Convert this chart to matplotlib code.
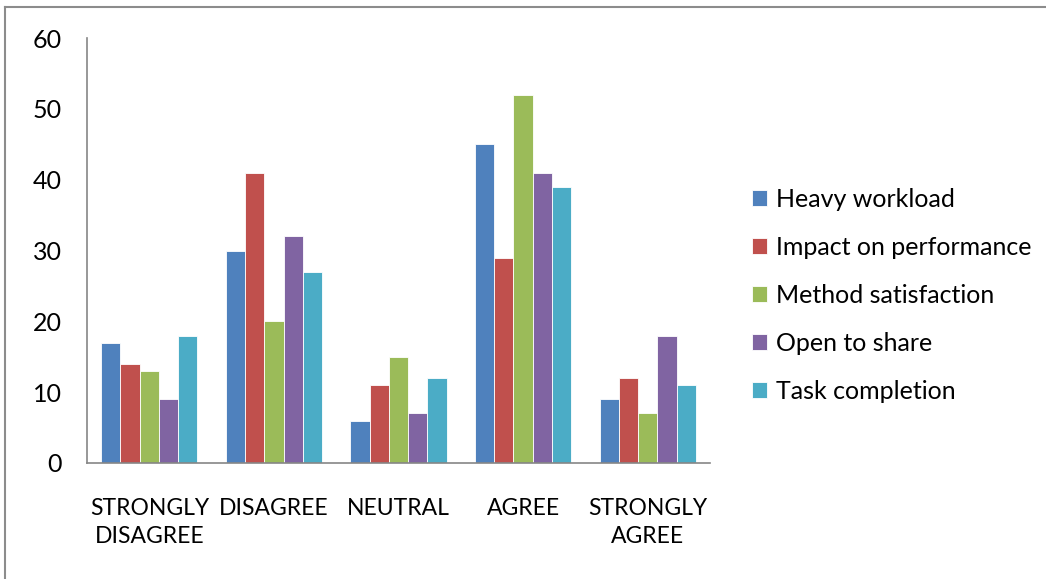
import matplotlib
matplotlib.use("Agg")
import matplotlib.pyplot as plt
import numpy as np
from matplotlib.lines import Line2D

categories = ["STRONGLY\nDISAGREE", "DISAGREE", "NEUTRAL", "AGREE", "STRONGLY\nAGREE"]
series_names = ["Heavy workload", "Impact on performance", "Method satisfaction",
                "Open to share", "Task completion"]
heavy_workload = [17, 30, 6, 45, 9]
impact_on_performance = [14, 41, 11, 29, 12]
method_satisfaction = [13, 20, 15, 52, 7]
open_to_share = [9, 32, 7, 41, 18]
task_completion = [18, 27, 12, 39, 11]
series_values = [heavy_workload, impact_on_performance, method_satisfaction,
                 open_to_share, task_completion]
colors = ["#4F81BD", "#C0504D", "#9BBB59", "#8064A2", "#4BACC6"]
yticks = [0, 10, 20, 30, 40, 50, 60]

plt.rcParams['font.family'] = ['Lato', 'DejaVu Sans']

W, H = 1046, 579
fig = plt.figure(figsize=(W / 100, H / 100), dpi=100)
ax = fig.add_axes([87 / W, 1 - 463 / H, (710 - 87) / W, (463 - 38) / H])

n = len(series_names)
x = np.arange(len(categories))
group_w = 0.772
bw = group_w / n
for i, (name, vals, c) in enumerate(zip(series_names, series_values, colors)):
    ax.bar(x - group_w / 2 + bw * (i + 0.5), vals, width=bw, color=c,
           edgecolor="white", linewidth=0.6, label=name, zorder=2)

ax.set_xlim(-0.5, len(categories) - 0.5)
ax.set_ylim(0, 60)
ax.set_yticks(yticks)
ax.set_yticklabels([str(v) for v in yticks], fontsize=18)
ax.set_xticks(x)
ax.set_xticklabels(categories, fontsize=16.5, linespacing=1.45)
ax.tick_params(axis='both', length=0)
ax.tick_params(axis='y', pad=18)
ax.tick_params(axis='x', pad=25)
for s in ["top", "right"]:
    ax.spines[s].set_visible(False)
for s in ["left", "bottom"]:
    ax.spines[s].set_color("#868686")
    ax.spines[s].set_linewidth(1.2)

leg = ax.legend(loc="upper left", bbox_to_anchor=(752 / W, 1 - 188 / H),
                bbox_transform=fig.transFigure, frameon=False, fontsize=18,
                handlelength=0.58, handleheight=0.58, handletextpad=0.4,
                labelspacing=1.0, borderaxespad=0, borderpad=0)

# outer chart border (top and left visible)
fig.add_artist(Line2D([5 / W, 1], [1 - 7 / H, 1 - 7 / H], transform=fig.transFigure,
                      color="#8c8c8c", linewidth=1.5))
fig.add_artist(Line2D([5 / W, 5 / W], [0, 1 - 7 / H], transform=fig.transFigure,
                      color="#8c8c8c", linewidth=1.5))

fig.savefig("out.png", dpi=100, facecolor="white")
